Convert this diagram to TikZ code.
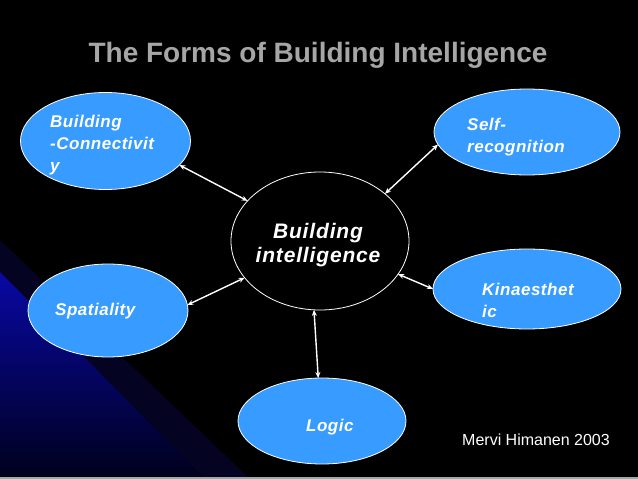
\documentclass[tikz,border=0pt]{standalone}
\usepackage{fontspec}
\setmainfont{Liberation Sans}
\usetikzlibrary{shapes.geometric,arrows.meta}
\definecolor{ellblue}{RGB}{55,155,255}
\definecolor{titlegray}{RGB}{166,166,166}
\definecolor{bandblue}{RGB}{8,8,165}
\definecolor{banddark}{RGB}{0,0,28}
\definecolor{bandfaint}{RGB}{4,4,34}
\begin{document}
\begin{tikzpicture}[x=1pt,y=-1pt,
  bubble/.style={ellipse, draw=white, line width=0.8pt, fill=ellblue, inner sep=0pt, outer sep=0pt},
  hub/.style={ellipse, draw=white, line width=0.8pt, fill=black, inner sep=0pt, outer sep=0pt},
  lbl/.style={anchor=base west, text=white, inner sep=0pt, align=left,
    font=\fontsize{17}{22}\selectfont\bfseries\itshape\addfontfeature{LetterSpace=3}},
  link/.style={white, line width=1.4pt, {Stealth[length=6pt,width=5pt]}-{Stealth[length=6pt,width=5pt]}}]
\useasboundingbox (0,0) rectangle (638,479);
\fill[black] (0,0) rectangle (638,479);
\fill[bandfaint] (0,240) -- (250,479) -- (205,479) -- (0,272) -- cycle;
\shade[shading angle=-45, top color=bandblue, bottom color=banddark] (0,272) -- (205,479) -- (0,479) -- cycle;
\fill[gray!70] (0,477) rectangle (638,479);

\node[anchor=base, text=titlegray, inner sep=0pt, font=\fontsize{28}{32}\selectfont\bfseries] (title) at (318,62) {The Forms of Building Intelligence};

\node[hub, minimum width=178pt, minimum height=138pt] (C) at (320,241) {};
\node[bubble, minimum width=170pt, minimum height=97pt] (BC) at (105.5,141) {};
\node[bubble, minimum width=186pt, minimum height=86pt] (SR) at (527,132) {};
\node[bubble, minimum width=160pt, minimum height=93pt] (SP) at (108,310.5) {};
\node[bubble, minimum width=188pt, minimum height=80pt] (KI) at (527,289) {};
\node[bubble, minimum width=168pt, minimum height=86pt] (LO) at (322,421) {};

\node[lbl] (tBC) at (50,171) {Building\\-Connectivit\\y};
\node[lbl] (tSR) at (467,152) {Self-\\recognition};
\node[lbl] (tSP) at (55,315) {Spatiality};
\node[lbl] (tKI) at (482,317) {Kinaesthet\\ic};
\node[lbl] (tLO) at (306,431) {Logic};
\node[anchor=base, text=white, inner sep=0pt, align=center,
  font=\fontsize{21}{24}\selectfont\bfseries\itshape\addfontfeature{LetterSpace=4}] (tC) at (318,262) {Building\\intelligence};

\node[anchor=base west, text=white, inner sep=0pt, font=\fontsize{16}{19}\selectfont] (cred) at (462,445) {Mervi Himanen 2003};

\draw[link] (C.151.9) -- (BC.342.3);
\draw[link] (C.36.4) -- (SR.188.3);
\draw[link] (C.206.6) -- (SP.4.6);
\draw[link] (C.337.5) -- (KI.180);
\draw[link] (C.265) -- (LO.95);
\end{tikzpicture}
\end{document}
